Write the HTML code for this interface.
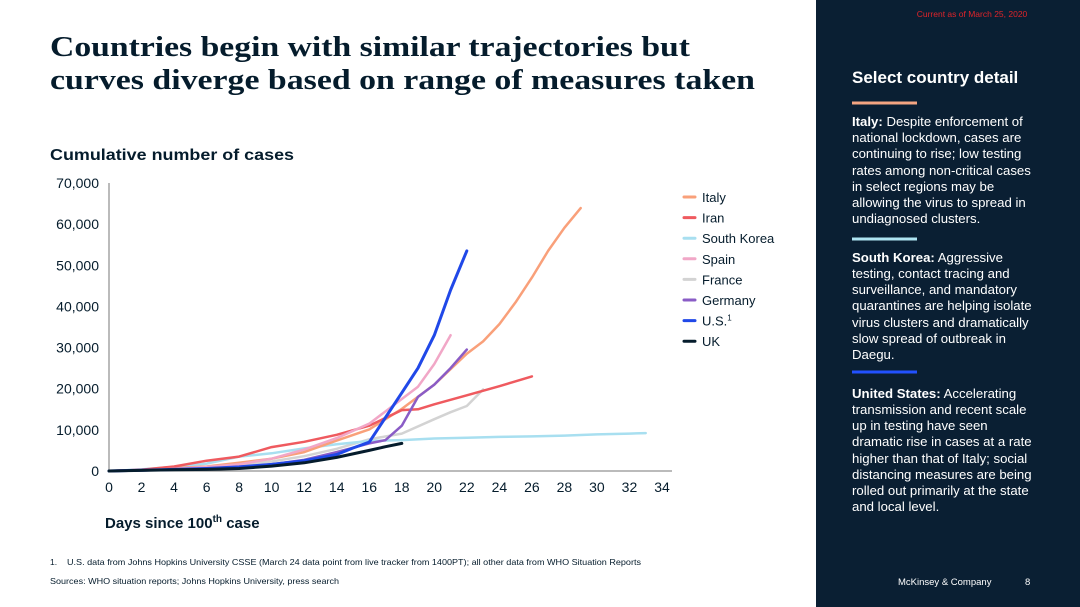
<!DOCTYPE html>
<html><head><meta charset="utf-8"><style>
html,body{margin:0;padding:0;background:#fff;}
svg{display:block;font-family:"Liberation Sans",Arial,sans-serif;}
</style></head><body>
<svg id="page" width="1080" height="607" viewBox="0 0 1080 607">
<rect x="0" y="0" width="1080" height="607" fill="#fff"/>
<text font-family="Liberation Serif,serif" font-weight="bold" font-size="28" fill="#051c2c"><tspan x="50" y="56" textLength="640" lengthAdjust="spacingAndGlyphs">Countries begin with similar trajectories but</tspan><tspan x="50" y="89" textLength="705" lengthAdjust="spacingAndGlyphs">curves diverge based on range of measures taken</tspan></text>
<text x="50" y="160" font-size="16" font-weight="bold" fill="#051c2c" textLength="244" lengthAdjust="spacingAndGlyphs">Cumulative number of cases</text>
<g id="yaxis"></g>
<g id="xaxis"></g>
<g id="lines"></g>
<g id="legend"></g>
<text x="105" y="528" font-size="15" font-weight="bold" fill="#051c2c">Days since 100<tspan font-size="10" dy="-6">th</tspan><tspan dy="6"> case</tspan></text>
<text y="565" font-size="8.5" fill="#051c2c"><tspan x="50">1.</tspan><tspan x="67" textLength="574" lengthAdjust="spacingAndGlyphs">U.S. data from Johns Hopkins University CSSE (March 24 data point from live tracker from 1400PT); all other data from WHO Situation Reports</tspan></text>
<text x="50" y="584" font-size="8.5" fill="#051c2c" textLength="289" lengthAdjust="spacingAndGlyphs">Sources: WHO situation reports; Johns Hopkins University, press search</text>

<rect x="816" y="0" width="264" height="607" fill="#0a1f33"/>
<text x="972" y="17" font-size="8.5" fill="#e0242a" text-anchor="middle">Current as of March 25, 2020</text>
<text x="852" y="83" font-size="17" font-weight="bold" fill="#fff">Select country detail</text>
<rect x="852" y="101.5" width="65" height="3" fill="#f4a582"/>
<text font-size="13.2" fill="#fff"><tspan x="852" y="126" font-weight="bold">Italy:</tspan><tspan> Despite enforcement of</tspan><tspan x="852" y="142">national lockdown, cases are</tspan><tspan x="852" y="158">continuing to rise; low testing</tspan><tspan x="852" y="175">rates among non-critical cases</tspan><tspan x="852" y="191">in select regions may be</tspan><tspan x="852" y="207">allowing the virus to spread in</tspan><tspan x="852" y="223">undiagnosed clusters.</tspan></text>
<rect x="852" y="237.5" width="65" height="3" fill="#aee4f2"/>
<text font-size="13.2" fill="#fff"><tspan x="852" y="262" font-weight="bold">South Korea:</tspan><tspan> Aggressive</tspan><tspan x="852" y="278">testing, contact tracing and</tspan><tspan x="852" y="294">surveillance, and mandatory</tspan><tspan x="852" y="310">quarantines are helping isolate</tspan><tspan x="852" y="327">virus clusters and dramatically</tspan><tspan x="852" y="343">slow spread of outbreak in</tspan><tspan x="852" y="359">Daegu.</tspan></text>
<rect x="852" y="370.5" width="65" height="3" fill="#2251ff"/>
<text font-size="13.2" fill="#fff"><tspan x="852" y="398" font-weight="bold">United States:</tspan><tspan> Accelerating</tspan><tspan x="852" y="414">transmission and recent scale</tspan><tspan x="852" y="430">up in testing have seen</tspan><tspan x="852" y="446">dramatic rise in cases at a rate</tspan><tspan x="852" y="463">higher than that of Italy; social</tspan><tspan x="852" y="479">distancing measures are being</tspan><tspan x="852" y="495">rolled out primarily at the state</tspan><tspan x="852" y="511">and local level.</tspan></text>
<text x="898" y="585" font-size="9.5" fill="#fff">McKinsey &amp; Company</text>
<text x="1025" y="585" font-size="9.5" fill="#fff">8</text>
</svg>
<script>
const yTicks=[0,10000,20000,30000,40000,50000,60000,70000];
const xTicks=[0,2,4,6,8,10,12,14,16,18,20,22,24,26,28,30,32,34];
const seriesNames=["Italy","Iran","South Korea","Spain","France","Germany","U.S.","UK"];
const italyDays=[0,2,4,6,8,10,12,14,16,18,20,22,23,24,25,26,27,28,29];
const italyVals=[0,300,700,1100,2000,3000,4600,7400,10100,15100,21000,28500,31500,35700,41000,47000,53500,59100,63900];
const iranDays=[0,2,4,6,8,10,12,14,16,18,19,20,22,24,26];
const iranVals=[0,300,1100,2500,3500,5800,7100,8800,11000,14800,15000,16200,18400,20600,23000];
const koreaDays=[0,2,4,6,8,10,12,14,16,18,20,22,24,26,28,30,32,33];
const koreaVals=[0,400,1000,1800,3500,4300,5500,6500,7300,7500,7900,8100,8300,8400,8600,8900,9100,9200];
const spainDays=[0,2,4,6,8,10,12,14,16,18,19,20,21];
const spainVals=[0,200,500,1000,1600,3000,5200,8000,11500,17500,20500,26000,33000];
const franceDays=[0,2,4,6,8,10,12,14,16,18,20,21,22,23];
const franceVals=[0,200,500,900,1500,2300,3600,5400,7700,9100,12600,14300,15800,19800];
const germanyDays=[0,2,4,6,8,10,12,14,16,17,18,19,20,21,22];
const germanyVals=[0,150,300,600,1000,1600,2700,4600,6700,7500,11000,18000,21000,25000,29500];
const usDays=[0,2,4,6,8,10,12,14,15,16,17,18,19,20,21,22];
const usVals=[0,200,400,600,1000,1600,2500,4000,5600,7000,13000,19000,25000,33000,44000,53500];
const ukDays=[0,2,4,6,8,10,12,14,16,17,18];
const ukVals=[0,150,300,400,600,1200,2000,3300,5000,5900,6700];
const seriesDays=[italyDays,iranDays,koreaDays,spainDays,franceDays,germanyDays,usDays,ukDays];
const seriesVals=[italyVals,iranVals,koreaVals,spainVals,franceVals,germanyVals,usVals,ukVals];
const colors=["#f9a07a","#ef5a5f","#a8dff0","#f1a7c7","#d3d3d3","#8a5cc6","#2048e8","#051c2c"];
const widths=[2.5,2.5,2.5,2.5,2.5,2.5,3,3];
const NS="http://www.w3.org/2000/svg";
const X0=109,X1=662,Y0=471,Y1=183;
const xs=d=>X0+(d-0)/(34-0)*(X1-X0);
const ys=v=>Y0-(v/70000)*(Y0-Y1);
function mk(tag,attrs,parent){const e=document.createElementNS(NS,tag);for(const k in attrs)e.setAttribute(k,attrs[k]);parent.appendChild(e);return e;}
const ya=document.getElementById('yaxis'),xa=document.getElementById('xaxis'),lg=document.getElementById('lines'),leg=document.getElementById('legend');
let ax=mk('line',{x1:X0,y1:Y1,x2:X0,y2:Y0,stroke:'#777','stroke-width':1},ya);


yTicks.forEach(v=>{const t=mk('text',{x:99,y:ys(v)+5,'text-anchor':'end','font-size':14,fill:'#051c2c'},ya);t.textContent=v.toLocaleString('en-US');

});
let bx=mk('line',{x1:X0,y1:Y0,x2:X1+10,y2:Y0,stroke:'#777','stroke-width':1},xa);


xTicks.forEach(d=>{const t=mk('text',{x:xs(d),y:492,'text-anchor':'middle','font-size':14,fill:'#051c2c'},xa);t.textContent=d;

});
const order=[4,2,0,1,3,5,6,7];
order.forEach(i=>{const pts=seriesDays[i].map((d,j)=>xs(d).toFixed(1)+','+ys(seriesVals[i][j]).toFixed(1)).join(' ');
const p=mk('polyline',{points:pts,fill:'none',stroke:colors[i],'stroke-width':widths[i],'stroke-linejoin':'round','stroke-linecap':'round'},lg);

});
seriesNames.forEach((n,i)=>{const y=197+i*20.6;
const l=mk('line',{x1:684,y1:y,x2:695,y2:y,stroke:colors[i],'stroke-width':3,'stroke-linecap':'round'},leg);


const t=mk('text',{x:702,y:y+5,'font-size':13,fill:'#051c2c'},leg);t.textContent=n;
if(n==="U.S."){const s=mk('tspan',{'font-size':8,dy:-5},t);s.textContent='1';}

});
</script>
</body></html>
